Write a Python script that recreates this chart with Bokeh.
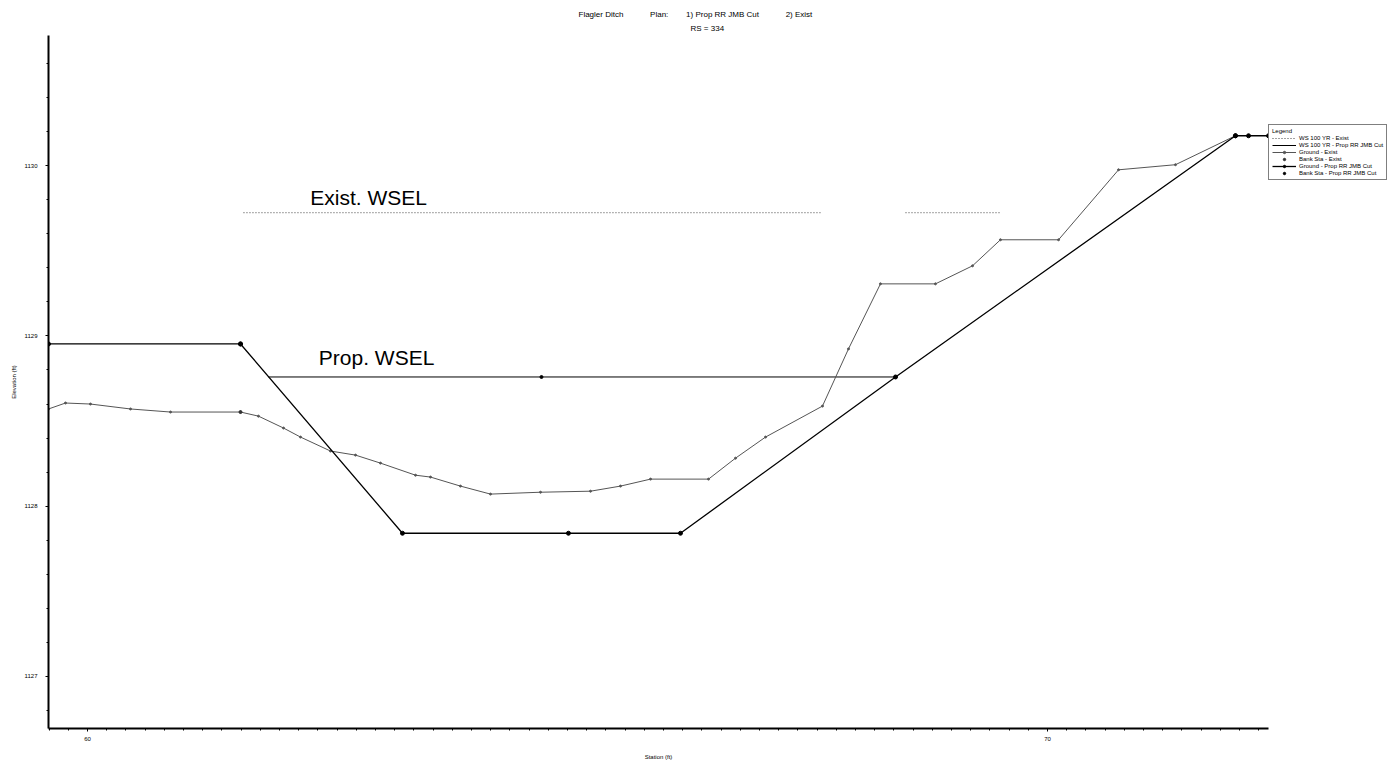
from bokeh.plotting import figure
from bokeh.models import Label, Legend, LegendItem, FixedTicker, Range1d, Title
from bokeh.embed import file_html
from bokeh.resources import INLINE
import numpy as np

# ---- data ----
prop_ground_sta = [59.594, 61.594, 63.281, 65.010, 66.177, 68.417, 71.958, 72.094, 72.302]
prop_ground_elev = [1128.953, 1128.953, 1127.841, 1127.841, 1127.841, 1128.759, 1130.176, 1130.176, 1130.176]

exist_ground_sta = [59.594, 59.771, 60.031, 60.448, 60.865, 61.594, 61.781, 62.042, 62.219, 62.531,
                    62.792, 63.052, 63.417, 63.573, 63.885, 64.198, 64.719, 65.240, 65.552, 65.865,
                    66.469, 66.750, 67.063, 67.656, 67.927, 68.260, 68.833, 69.219, 69.510, 70.115,
                    70.740, 71.333, 71.958]
exist_ground_elev = [1128.571, 1128.606, 1128.600, 1128.571, 1128.553, 1128.553, 1128.529, 1128.459, 1128.406, 1128.324,
                     1128.300, 1128.253, 1128.182, 1128.171, 1128.118, 1128.071, 1128.082, 1128.088, 1128.118, 1128.159,
                     1128.159, 1128.282, 1128.406, 1128.588, 1128.924, 1129.306, 1129.306, 1129.412, 1129.565, 1129.565,
                     1129.976, 1130.006, 1130.176]

prop_ws_sta = [61.885, 64.729, 68.417]
prop_ws_elev = [1128.759, 1128.759, 1128.759]

exist_ws_sta = [61.625, 67.635, float("nan"), 68.521, 69.510]
exist_ws_elev = [1129.724, 1129.724, float("nan"), 1129.724, 1129.724]

prop_bank_sta = [61.594, 71.958]
prop_bank_elev = [1128.953, 1130.176]
exist_bank_sta = [61.594, 71.958]
exist_bank_elev = [1128.553, 1130.176]

y_ticks = [1127, 1128, 1129, 1130]
x_ticks = [60, 70]

FONT = "Liberation Sans"
NB = "\u00a0"

p = figure(width=1394, height=761, output_backend="svg", toolbar_location=None,
           x_range=Range1d(59.594, 72.302), y_range=Range1d(1126.694, 1130.765),
           min_border_left=48, min_border_right=126, min_border_top=35, min_border_bottom=33)
p.frame_width = 1220
p.frame_height = 693
p.outline_line_color = None
p.title.visible = False
p.xgrid.visible = False
p.ygrid.visible = False
p.background_fill_color = "white"
p.border_fill_color = "white"

for ax in (p.xaxis[0], p.yaxis[0]):
    ax.axis_line_width = 2
    ax.axis_line_color = "black"
    ax.major_tick_line_color = "black"
    ax.minor_tick_line_color = "black"
    ax.major_tick_in = 0
    ax.major_tick_out = 3
    ax.minor_tick_in = 0
    ax.minor_tick_out = 2
    ax.major_label_text_font = FONT
    ax.major_label_text_font_size = "6px"
    ax.major_label_text_color = "black"
    ax.axis_label_text_font = FONT
    ax.axis_label_text_font_size = "6px"
    ax.axis_label_text_font_style = "normal"
    ax.axis_label_text_color = "black"

p.yaxis[0].ticker = FixedTicker(ticks=y_ticks, minor_ticks=list(np.round(np.arange(1126.8, 1130.8, 0.2), 2)))
p.xaxis[0].ticker = FixedTicker(ticks=x_ticks, minor_ticks=list(np.round(np.arange(59.6, 72.4, 0.2), 2)))
p.yaxis[0].axis_label = "Elevation (ft)"
p.yaxis[0].major_label_standoff = 8
p.xaxis[0].axis_label = "Station (ft)"
p.xaxis[0].axis_label_standoff = 10

# ---- glyphs ----
r_exist_ws = p.line(exist_ws_sta, exist_ws_elev, line_color="#444444", line_width=1, line_dash="1 2")
r_prop_ws = p.line(prop_ws_sta, prop_ws_elev, line_color="black", line_width=1)
p.scatter([prop_ws_sta[1]], [prop_ws_elev[1]], size=3, color="black")

r_exist_g = p.line(exist_ground_sta, exist_ground_elev, line_color="#555555", line_width=1)
r_exist_gd = p.scatter(exist_ground_sta, exist_ground_elev, size=2, color="#555555")
r_exist_b = p.scatter(exist_bank_sta, exist_bank_elev, size=3, color="#333333")

r_prop_g = p.line(prop_ground_sta, prop_ground_elev, line_color="black", line_width=1.3)
r_prop_gd = p.scatter(prop_ground_sta, prop_ground_elev, size=4, color="black")
r_prop_b = p.scatter(prop_bank_sta, prop_bank_elev, size=4, color="black")

# ---- annotations ----
p.add_layout(Label(x=62.32, y=1129.747, text="Exist. WSEL", text_font=FONT, text_font_size="21px",
                   text_baseline="bottom", text_color="black"))
p.add_layout(Label(x=62.41, y=1128.806, text="Prop. WSEL", text_font=FONT, text_font_size="21px",
                   text_baseline="bottom", text_color="black"))

title_text = ("Flagler Ditch" + NB * 12 + "Plan:" + NB * 8 + "1) Prop RR JMB Cut" + NB * 12 + "2) Exist")
p.add_layout(Title(text="RS = 334", align="left", offset=642, text_font=FONT, text_font_size="8px",
                   text_font_style="normal", text_color="black", standoff=5), "above")
p.add_layout(Title(text=title_text, align="left", offset=530, text_font=FONT, text_font_size="8px",
                   text_font_style="normal", text_color="black", standoff=2), "above")

legend = Legend(items=[
    LegendItem(label="WS 100 YR - Exist", renderers=[r_exist_ws]),
    LegendItem(label="WS 100 YR - Prop RR JMB Cut", renderers=[r_prop_ws]),
    LegendItem(label="Ground - Exist", renderers=[r_exist_g, r_exist_gd]),
    LegendItem(label="Bank Sta - Exist", renderers=[r_exist_b]),
    LegendItem(label="Ground - Prop RR JMB Cut", renderers=[r_prop_g, r_prop_gd]),
    LegendItem(label="Bank Sta - Prop RR JMB Cut", renderers=[r_prop_b]),
], location=(0, 548), title="Legend", title_text_font=FONT, title_text_font_size="6px",
    title_text_font_style="normal",
    label_text_font=FONT, label_text_font_size="6px", label_height=6, glyph_height=6,
    glyph_width=24, spacing=1, padding=3, margin=0, border_line_color="black",
    border_line_width=1, background_fill_alpha=1, label_standoff=3, title_standoff=1,
    label_text_color="black", title_text_color="black")
p.add_layout(legend, "right")

open("out.html", "w").write(file_html(p, INLINE))
